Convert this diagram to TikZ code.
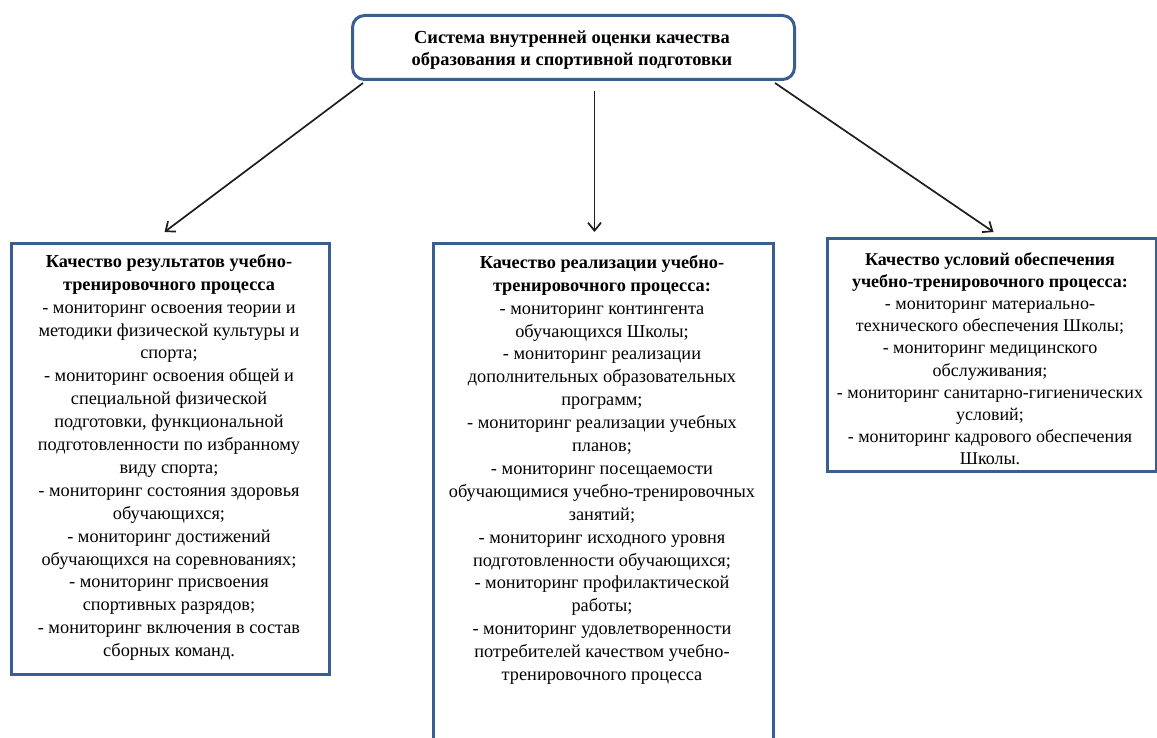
\documentclass[tikz,border=0pt]{standalone}
\usepackage{fontspec}
\setmainfont{Liberation Serif}
\usetikzlibrary{arrows.meta}
\definecolor{boxblue}{RGB}{58,95,142}
\definecolor{arrowgray}{RGB}{30,30,30}
\begin{document}
\begin{tikzpicture}[x=1pt,y=1pt,
  box/.style={draw=boxblue, line width=3pt, inner sep=0pt, anchor=north west, fill=white},
  txt/.style={anchor=north, align=center, inner sep=0pt, font=\fontsize{18.3}{22.9}\selectfont},
  arr/.style={draw=arrowgray, line width=1.7pt, -{Straight Barb[length=8pt,width=13pt,line width=1.7pt]}}]
\useasboundingbox (0,0) rectangle (1157,-738);
\begin{scope}
\clip (0,0) rectangle (1157,-738);
\node[box, rounded corners=12pt, minimum width=442pt, minimum height=64pt] (T) at (351,-14) {};
\node[box, minimum width=318pt, minimum height=431pt] (L) at (10,-242) {};
\node[box, minimum width=340pt, minimum height=512pt] (M) at (432,-242) {};
\node[box, minimum width=329pt, minimum height=233pt] (R) at (826,-237) {};
\end{scope}

\node[txt, font=\fontsize{18.4}{22}\selectfont\bfseries] (TT) at (572,-31)
  {Система внутренней оценки качества\\образования и спортивной подготовки};

\node[txt] (LT) at (169,-254) {\textbf{Качество результатов учебно-}\\
\textbf{тренировочного процесса}\\
- мониторинг освоения теории и\\
методики физической культуры и\\
спорта;\\
- мониторинг освоения общей и\\
специальной физической\\
подготовки, функциональной\\
подготовленности по избранному\\
виду спорта;\\
- мониторинг состояния здоровья\\
обучающихся;\\
- мониторинг достижений\\
обучающихся на соревнованиях;\\
- мониторинг присвоения\\
спортивных разрядов;\\
- мониторинг включения в состав\\
сборных команд.};

\node[txt] (MT) at (602,-255) {\textbf{Качество реализации учебно-}\\
\textbf{тренировочного процесса:}\\
- мониторинг контингента\\
обучающихся Школы;\\
- мониторинг реализации\\
дополнительных образовательных\\
программ;\\
- мониторинг реализации учебных\\
планов;\\
- мониторинг посещаемости\\
обучающимися учебно-тренировочных\\
занятий;\\
- мониторинг исходного уровня\\
подготовленности обучающихся;\\
- мониторинг профилактической\\
работы;\\
- мониторинг удовлетворенности\\
потребителей качеством учебно-\\
тренировочного процесса};

\node[txt, font=\fontsize{18}{22.2}\selectfont] (RT) at (990,-252) {\textbf{Качество условий обеспечения}\\
\textbf{учебно-тренировочного процесса:}\\
- мониторинг материально-\\
технического обеспечения Школы;\\
- мониторинг медицинского\\
обслуживания;\\
- мониторинг санитарно-гигиенических\\
условий;\\
- мониторинг кадрового обеспечения\\
Школы.};

\draw[arr] ([xshift=12pt,yshift=-2pt]T.south west) -- ([xshift=-6pt,yshift=10pt]L.north);
\draw[arr] ([xshift=21pt,yshift=-10pt]T.south) -- ([xshift=-9pt,yshift=10pt]M.north);
\draw[arr] ([xshift=-21pt,yshift=-2pt]T.south east) -- ([xshift=1.5pt,yshift=5pt]R.north);
\end{tikzpicture}
\end{document}
